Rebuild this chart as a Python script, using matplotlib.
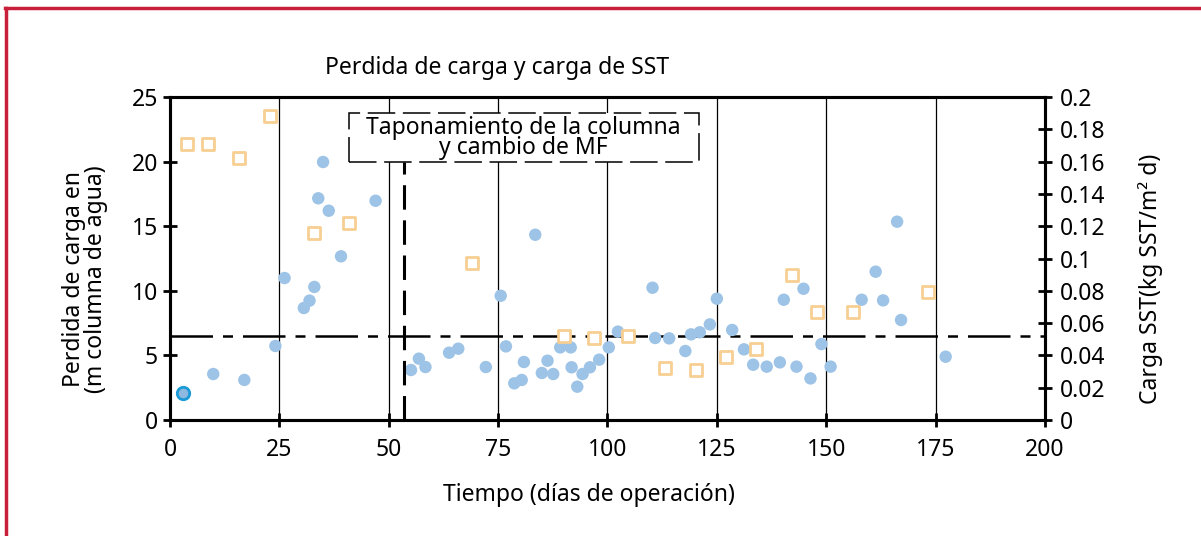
import matplotlib.pyplot as plt
from matplotlib.patches import Rectangle
from matplotlib.ticker import FormatStrFormatter
import numpy as np

plt.rcParams['font.family'] = ['Noto Sans', 'DejaVu Sans']

# perdida de carga (m columna de agua), eje izquierdo
dias_pc = [9.9, 17.0, 24.1, 26.2, 30.6, 31.9, 33.0, 33.9, 35.0, 36.3, 39.1, 47.0,
           55.1, 56.9, 58.4, 63.8, 65.9, 72.2, 75.6, 76.8, 78.7, 80.4, 80.9, 83.5,
           85.0, 86.3, 87.6, 89.2, 91.6, 91.8, 93.1, 94.3, 96.0, 96.9, 98.1, 100.3,
           102.4, 110.3, 110.9, 114.1, 117.8, 119.1, 121.1, 123.4, 125.0, 128.5,
           131.2, 133.3, 136.4, 139.4, 140.3, 143.2, 144.8, 146.4, 148.9, 151.0,
           158.1, 161.3, 163.0, 166.2, 167.1, 177.3]
pc = [3.56, 3.1, 5.73, 10.99, 8.67, 9.24, 10.3, 17.16, 19.97, 16.2, 12.67, 16.97,
      3.87, 4.75, 4.1, 5.21, 5.52, 4.1, 9.62, 5.7, 2.84, 3.1, 4.49, 14.34,
      3.64, 4.59, 3.56, 5.62, 5.62, 4.08, 2.58, 3.56, 4.08, 6.32, 4.67, 5.62,
      6.84, 10.24, 6.35, 6.32, 5.34, 6.63, 6.79, 7.4, 9.39, 6.97,
      5.47, 4.28, 4.13, 4.46, 9.31, 4.13, 10.16, 3.22, 5.88, 4.13,
      9.31, 11.48, 9.26, 15.35, 7.74, 4.9]
dia_resaltado = [3.0]
pc_resaltado = [2.07]

# carga SST (kg SST/m2 d), eje derecho
dias_sst = [4.0, 8.8, 15.8, 22.9, 32.9, 40.9, 69.0, 90.0, 97.0, 104.8, 113.1,
            120.2, 127.0, 133.9, 142.2, 148.0, 156.1, 173.2]
sst = [0.171, 0.171, 0.162, 0.188, 0.116, 0.122, 0.097, 0.052, 0.051, 0.052,
       0.032, 0.031, 0.039, 0.044, 0.090, 0.067, 0.067, 0.079]

nivel_ref = 6.5
dia_cambio = 53.5

azul = '#9dc3e6'
naranja = '#f7cf92'
fs = 16.5

fig = plt.figure(figsize=(12.01, 5.36), dpi=100)
ax = fig.add_axes([0.1415, 0.2164, 0.7286, 0.6026])

for xv in range(25, 200, 25):
    ax.axvline(xv, color='black', lw=0.9, zorder=1)

ax.axhline(nivel_ref, color='black', lw=1.8, ls=(0, (17, 4, 4, 4)), zorder=2)

ax.scatter(dias_pc, pc, s=80, color=azul, edgecolors='none', zorder=4)
ax.scatter(dia_resaltado, pc_resaltado, s=80, color='#8fb8e0',
           edgecolors='#1a9ad6', linewidths=2, zorder=4)

ax.set_xlim(0, 200)
ax.set_ylim(0, 25)
ax.set_xticks(np.arange(0, 201, 25))
ax.set_yticks(np.arange(0, 26, 5))

ax2 = ax.twinx()
ax2.set_ylim(0, 0.2)
ax2.set_yticks(np.arange(0, 0.201, 0.02))
ax2.yaxis.set_major_formatter(FormatStrFormatter('%g'))
ax2.scatter(dias_sst, sst, s=80, marker='s', facecolors='white',
            edgecolors=naranja, linewidths=2, zorder=4)

# caja de anotacion y linea de cambio
ax2.add_patch(Rectangle((40.9, 0.1598), 80.0, 0.0303, facecolor='white',
                        edgecolor='black', lw=1.1, ls=(0, (18, 5)), zorder=5))
ax2.text(80.7, 0.1745, 'Taponamiento de la columna\ny cambio de MF',
         ha='center', va='center', fontsize=fs, linespacing=0.8, zorder=6)
ax2.plot([dia_cambio, dia_cambio], [0, 0.1598], color='black', lw=2.2,
         ls=(0, (8, 3.5)), zorder=6)

for a in (ax, ax2):
    for sp in a.spines.values():
        sp.set_linewidth(2.2)
    a.tick_params(direction='inout', length=10, width=2, labelsize=fs)
ax.tick_params(axis='x', pad=8)
ax2.tick_params(axis='y', pad=6)

fig.text(0.414, 0.873, 'Perdida de carga y carga de SST', ha='center',
         va='center', fontsize=fs)
fig.text(0.49, 0.076, 'Tiempo (días de operación)', ha='center', va='center',
         fontsize=fs)
fig.text(0.0705, 0.48, 'Perdida de carga en\n(m columna de agua)', ha='center',
         va='center', rotation=90, fontsize=fs, linespacing=0.9)
fig.text(0.958, 0.48, 'Carga SST(kg SST/m² d)', ha='center', va='center',
         rotation=90, fontsize=fs)

# marco rojo
fig.add_artist(plt.Line2D([0.0045, 1.0], [0.985, 0.985], color='#c8203a',
                          lw=2.5, transform=fig.transFigure))
fig.add_artist(plt.Line2D([0.0053, 0.0053], [0.0, 0.985], color='#c8203a',
                          lw=2.5, transform=fig.transFigure))

fig.savefig('out.png', dpi=100)
